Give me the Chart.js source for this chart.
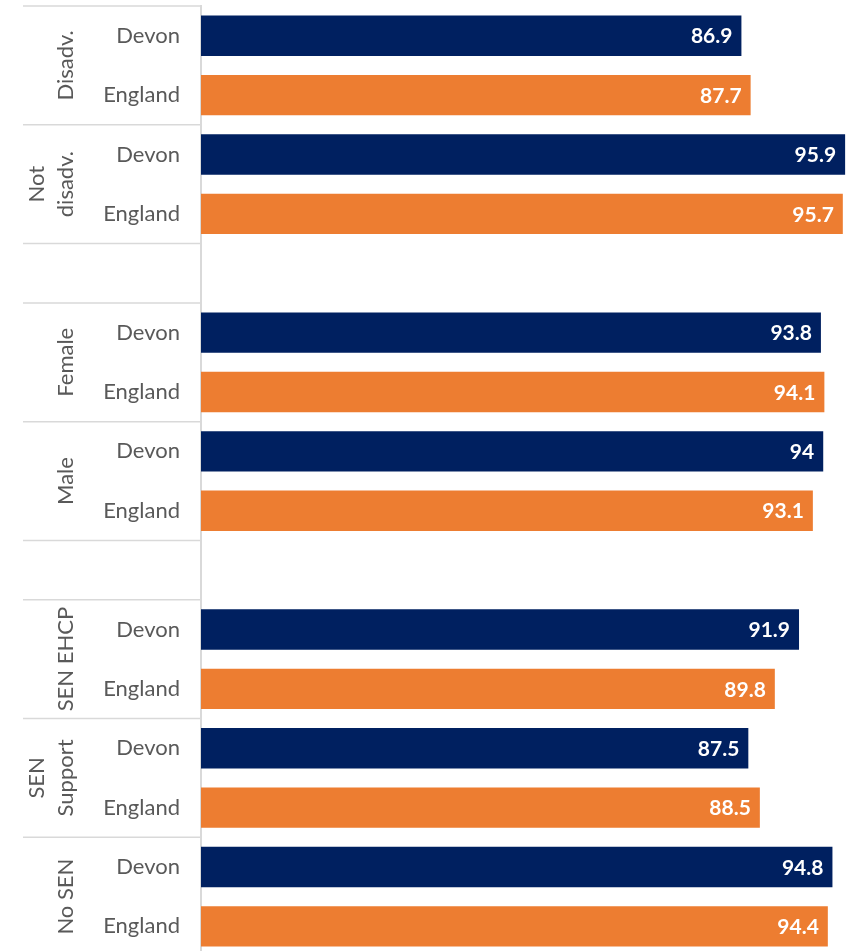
<!DOCTYPE html>
<html>
<head>
<meta charset="utf-8">
<script src="https://cdn.jsdelivr.net/npm/chart.js@4.4.0/dist/chart.umd.min.js"></script>
<style>
  html, body { margin: 0; padding: 0; background: #fff; overflow: hidden; }
  canvas { display: block; }
</style>
</head>
<body>
<!-- the original plot runs a few pixels past the bottom edge of the picture -->
<canvas id="chart" width="848" height="956"></canvas>
<script>
// group labels (as they wrap in the original), blank groups are spacer rows
const groups = [['Disadv.'], ['Not', 'disadv.'], [], ['Female'], ['Male'], [], ['SEN EHCP'], ['SEN', 'Support'], ['No SEN']];
const seriesNames = ['Devon', 'England'];
const devon = [86.9, 95.9, null, 93.8, 94, null, 91.9, 87.5, 94.8];
const england = [87.7, 95.7, null, 94.1, 93.1, null, 89.8, 88.5, 94.4];

const NAVY = '#002060';
const ORANGE = '#ED7D31';
const GREY_TEXT = '#595959';
const LINE = '#d9d9d9';
const FONT = 'Lato, "Open Sans", sans-serif';

// expand groups into rows: Devon / England, or one empty row for a spacer
const rowLabels = [];
const devonRows = [];
const englandRows = [];
const groupSpans = []; // [firstRow, rowCount]
groups.forEach((g, i) => {
    const start = rowLabels.length;
    if (devon[i] === null) {
        rowLabels.push('');
        devonRows.push(null);
        englandRows.push(null);
    } else {
        rowLabels.push(seriesNames[0], seriesNames[1]);
        devonRows.push(devon[i], null);
        englandRows.push(null, england[i]);
    }
    groupSpans.push([start, rowLabels.length - start]);
});

const groupPlugin = {
    id: 'groupLabels',
    afterDraw(chart) {
        const ctx = chart.ctx;
        const y = chart.scales.y;
        const area = chart.chartArea;
        const half = (y.getPixelForValue(1) - y.getPixelForValue(0)) / 2;
        ctx.save();
        // separators between groups
        ctx.strokeStyle = LINE;
        ctx.lineWidth = 1.5;
        groupSpans.forEach(([start, n]) => {
            const top = y.getPixelForValue(start) - half;
            ctx.beginPath();
            ctx.moveTo(23, top);
            ctx.lineTo(area.left, top);
            ctx.stroke();
        });
        // rotated group names
        ctx.fillStyle = GREY_TEXT;
        ctx.font = '22px ' + FONT;
        ctx.textAlign = 'center';
        ctx.textBaseline = 'middle';
        groups.forEach((lines, i) => {
            if (!lines.length) return;
            const [start, n] = groupSpans[i];
            const cy = (y.getPixelForValue(start) + y.getPixelForValue(start + n - 1)) / 2;
            lines.forEach((txt, k) => {
                const cx = 66 - (lines.length - 1 - k) * 29;
                ctx.save();
                ctx.translate(cx, cy);
                ctx.rotate(-Math.PI / 2);
                ctx.fillText(txt, 0, 0);
                ctx.restore();
            });
        });
        ctx.restore();
    },
    afterDatasetsDraw(chart) {
        const ctx = chart.ctx;
        ctx.save();
        ctx.fillStyle = '#ffffff';
        ctx.font = 'bold 21px ' + FONT;
        ctx.textAlign = 'right';
        ctx.textBaseline = 'middle';
        chart.data.datasets.forEach((ds, di) => {
            chart.getDatasetMeta(di).data.forEach((bar, i) => {
                const v = ds.data[i];
                if (v === null) return;
                ctx.fillText(String(v), bar.x - 9, bar.y + 1);
            });
        });
        ctx.restore();
    }
};

new Chart(document.getElementById('chart'), {
    type: 'bar',
    data: {
        labels: rowLabels,
        datasets: [
            { label: seriesNames[0], data: devonRows, backgroundColor: NAVY, skipNull: true },
            { label: seriesNames[1], data: englandRows, backgroundColor: ORANGE, skipNull: true }
        ]
    },
    options: {
        indexAxis: 'y',
        responsive: false,
        animation: false,
        barPercentage: 0.68,
        categoryPercentage: 1,
        layout: { autoPadding: false, padding: { top: 6, right: 0, bottom: 0, left: 0 } },
        plugins: {
            legend: { display: false },
            tooltip: { enabled: false }
        },
        scales: {
            x: {
                display: false,
                min: 40,
                max: 96.15
            },
            y: {
                afterFit(scale) {
                    scale.width = 201;
                    scale.paddingTop = 0;
                    scale.paddingBottom = 0;
                },
                grid: { display: true, color: 'transparent', drawTicks: false },
                border: { display: true, color: LINE, width: 2 },
                ticks: {
                    padding: 21,
                    color: GREY_TEXT,
                    font: { family: FONT, size: 22 }
                }
            }
        }
    },
    plugins: [groupPlugin]
});
</script>
</body>
</html>
